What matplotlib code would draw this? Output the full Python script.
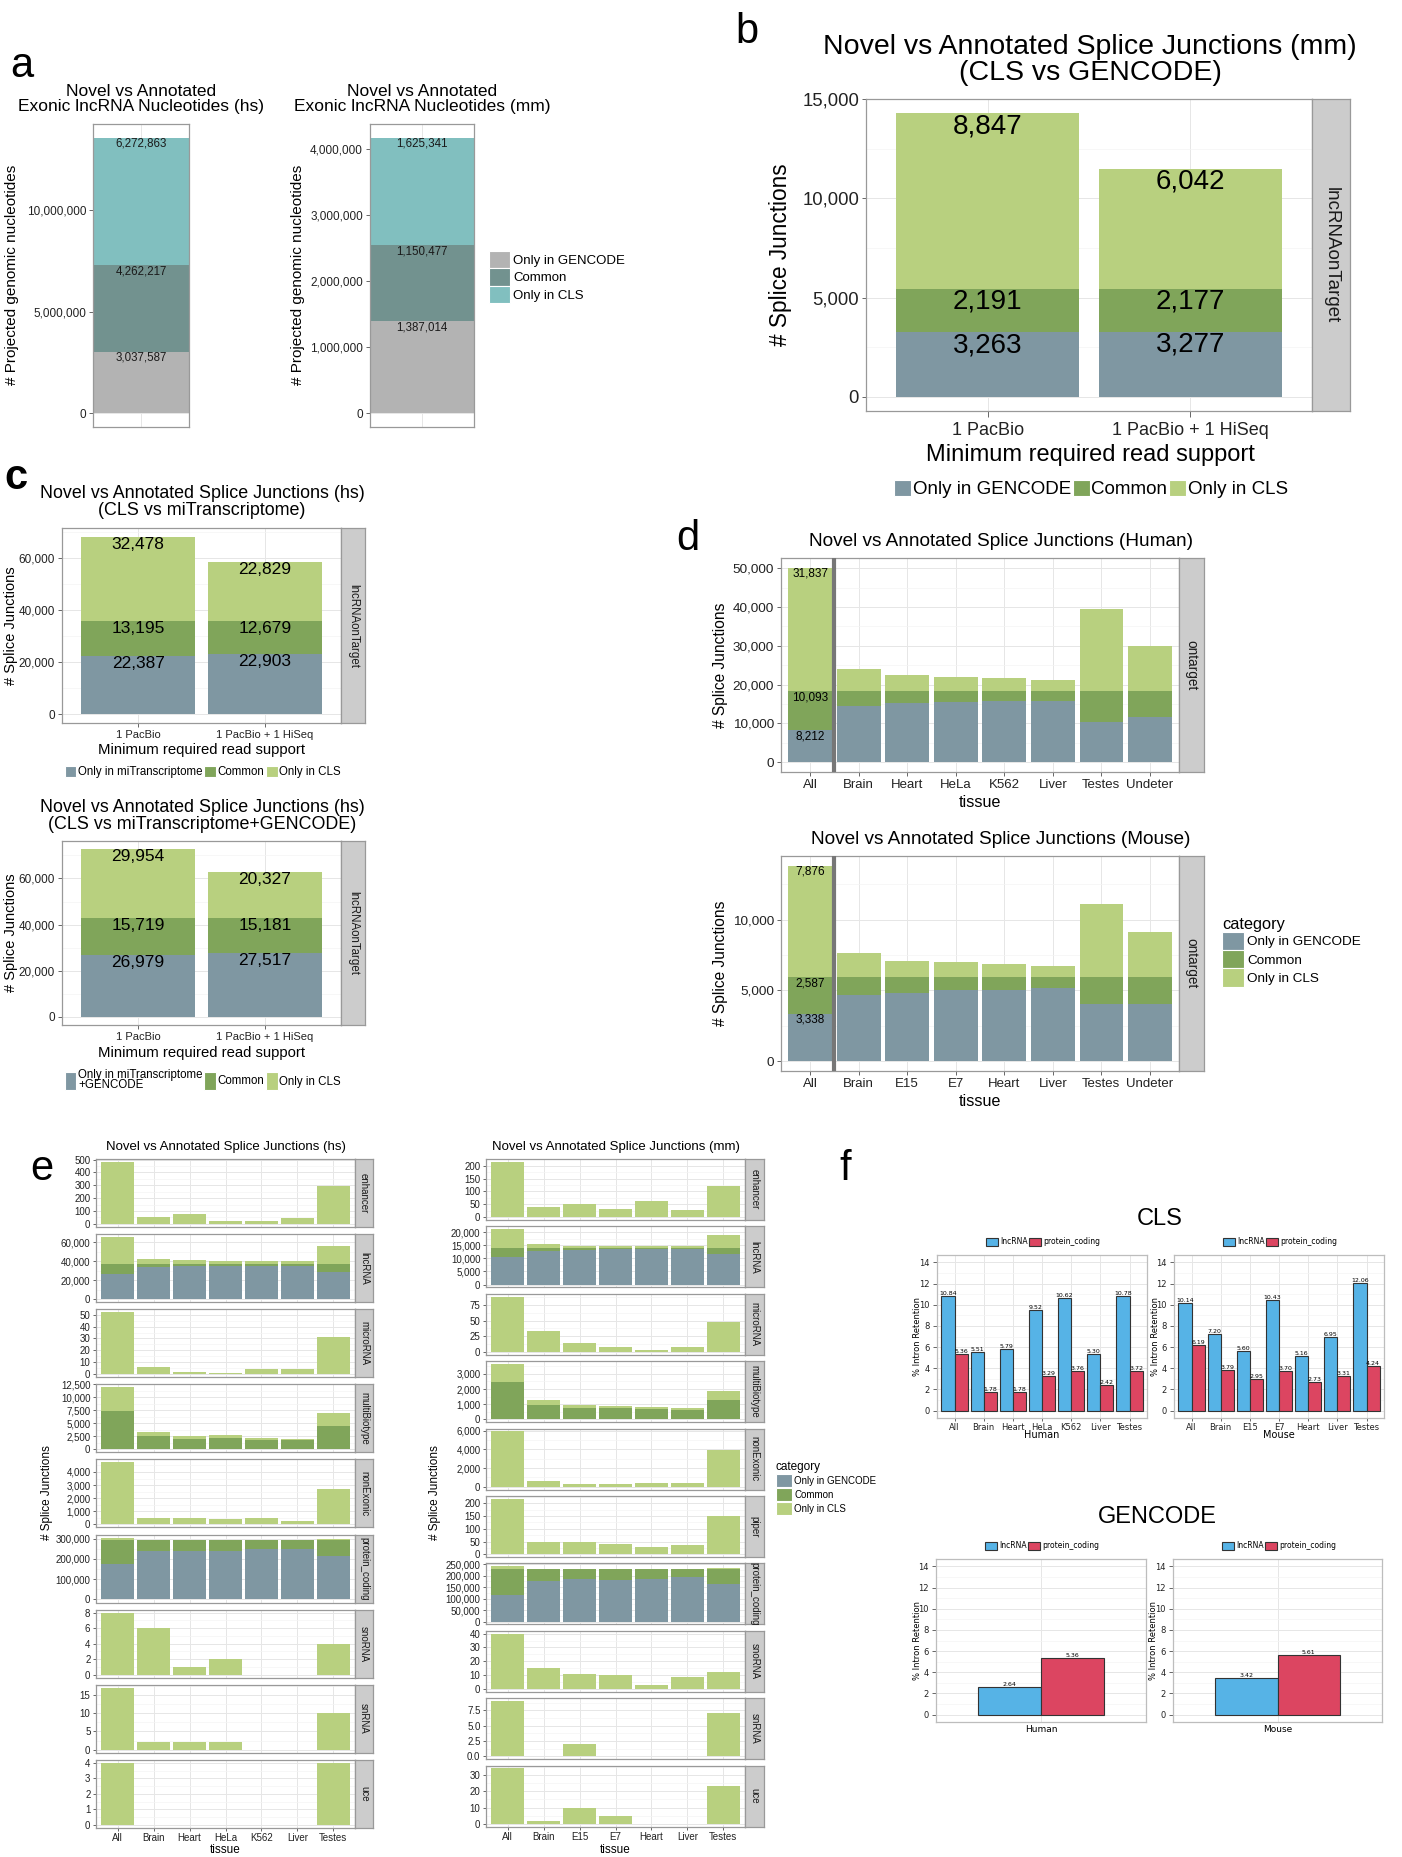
import numpy as np
import matplotlib
matplotlib.use('Agg')
import matplotlib.pyplot as plt
from matplotlib.patches import Patch
from matplotlib.ticker import FuncFormatter, AutoMinorLocator

plt.rcParams['font.family'] = ['Liberation Sans', 'DejaVu Sans']

# ---------------- data ----------------
cat_labels = ['Only in GENCODE', 'Common', 'Only in CLS']

# a: exonic lncRNA nucleotides
a_hs = [3037587, 4262217, 6272863]
a_mm = [1387014, 1150477, 1625341]

# b: mouse splice junctions, CLS vs GENCODE
read_support = ['1 PacBio', '1 PacBio + 1 HiSeq']
b_gencode = [3263, 3277]
b_common = [2191, 2177]
b_cls = [8847, 6042]

# c: human, CLS vs miTranscriptome (+GENCODE)
c1_ref = [22387, 22903]
c1_common = [13195, 12679]
c1_cls = [32478, 22829]
c2_ref = [26979, 27517]
c2_common = [15719, 15181]
c2_cls = [29954, 20327]

# d: per tissue
d_hs_tissues = ['All', 'Brain', 'Heart', 'HeLa', 'K562', 'Liver', 'Testes', 'Undeter']
d_hs_gencode = [8212, 14500, 15400, 15600, 15800, 15700, 10500, 11700]
d_hs_common = [10093, 3800, 2900, 2700, 2500, 2600, 7800, 6600]
d_hs_cls = [31837, 5650, 4100, 3600, 3300, 3000, 21300, 11550]
d_mm_tissues = ['All', 'Brain', 'E15', 'E7', 'Heart', 'Liver', 'Testes', 'Undeter']
d_mm_gencode = [3338, 4680, 4840, 5000, 5000, 5160, 4030, 4030]
d_mm_common = [2587, 1245, 1085, 925, 925, 765, 1895, 1895]
d_mm_cls = [7876, 1725, 1130, 1050, 970, 780, 5210, 3180]

# e: per biotype and tissue
e_hs_tissues = ['All', 'Brain', 'Heart', 'HeLa', 'K562', 'Liver', 'Testes']
e_hs_biotypes = ['enhancer', 'lncRNA', 'microRNA', 'multiBiotype', 'nonExonic',
                 'protein_coding', 'snoRNA', 'snRNA', 'uce']
e_hs_gencode = {
    'lncRNA': [26000, 34000, 35000, 35000, 35500, 35000, 29000],
    'protein_coding': [173500, 236800, 240000, 240000, 248000, 251000, 215700],
}
e_hs_common = {
    'lncRNA': [11500, 3500, 2500, 2500, 2000, 2500, 8500],
    'multiBiotype': [7400, 2500, 1950, 2150, 1850, 1700, 4400],
    'protein_coding': [118500, 55200, 52000, 52000, 44000, 41000, 76300],
}
e_hs_cls = {
    'enhancer': [480, 54, 74, 26, 20, 46, 291],
    'lncRNA': [28000, 4500, 3500, 3000, 3000, 2500, 18500],
    'microRNA': [52, 6, 2, 1, 4, 4, 31],
    'multiBiotype': [4500, 900, 500, 550, 400, 350, 2650],
    'nonExonic': [4725, 450, 450, 400, 450, 275, 2675],
    'protein_coding': [13000, 1500, 1200, 1200, 1200, 1200, 4800],
    'snoRNA': [8, 6, 1, 2, 0, 0, 4],
    'snRNA': [17, 2, 2, 2, 0, 0, 10],
    'uce': [4, 0, 0, 0, 0, 0, 4],
}
e_mm_tissues = ['All', 'Brain', 'E15', 'E7', 'Heart', 'Liver', 'Testes']
e_mm_biotypes = ['enhancer', 'lncRNA', 'microRNA', 'multiBiotype', 'nonExonic', 'piper',
                 'protein_coding', 'snoRNA', 'snRNA', 'uce']
e_mm_gencode = {
    'lncRNA': [10600, 12950, 13200, 13450, 13450, 13600, 11800],
    'protein_coding': [115000, 176700, 183900, 181000, 186800, 192500, 162400],
}
e_mm_common = {
    'lncRNA': [3500, 1150, 900, 650, 650, 500, 2300],
    'multiBiotype': [2450, 930, 720, 780, 700, 650, 1280],
    'protein_coding': [115000, 53300, 46100, 49000, 43200, 37500, 67600],
}
e_mm_cls = {
    'enhancer': [215, 38, 53, 33, 63, 29, 123],
    'lncRNA': [7000, 1400, 750, 750, 750, 600, 4650],
    'microRNA': [88, 33, 15, 8, 3, 8, 48],
    'multiBiotype': [1200, 350, 220, 130, 130, 110, 590],
    'nonExonic': [5930, 635, 350, 350, 390, 420, 3950],
    'piper': [218, 49, 49, 39, 27, 35, 149],
    'protein_coding': [11400, 1000, 800, 800, 800, 800, 5600],
    'snoRNA': [40, 15, 11, 10, 3, 9, 12],
    'snRNA': [9, 0, 2, 0, 0, 0, 7],
    'uce': [34, 2, 10, 5, 0, 0, 23],
}
e_hs_ticks = {'enhancer': [0, 100, 200, 300, 400, 500], 'lncRNA': [0, 20000, 40000, 60000],
              'microRNA': [0, 10, 20, 30, 40, 50], 'multiBiotype': [0, 2500, 5000, 7500, 10000, 12500],
              'nonExonic': [0, 1000, 2000, 3000, 4000], 'protein_coding': [0, 100000, 200000, 300000],
              'snoRNA': [0, 2, 4, 6, 8], 'snRNA': [0, 5, 10, 15], 'uce': [0, 1, 2, 3, 4]}
e_mm_ticks = {'enhancer': [0, 50, 100, 150, 200], 'lncRNA': [0, 5000, 10000, 15000, 20000],
              'microRNA': [0, 25, 50, 75], 'multiBiotype': [0, 1000, 2000, 3000],
              'nonExonic': [0, 2000, 4000, 6000], 'piper': [0, 50, 100, 150, 200],
              'protein_coding': [0, 50000, 100000, 150000, 200000, 250000],
              'snoRNA': [0, 10, 20, 30, 40], 'snRNA': [0, 2.5, 5, 7.5], 'uce': [0, 10, 20, 30]}

# f: intron retention
f_hs_tissues = ['All', 'Brain', 'Heart', 'HeLa', 'K562', 'Liver', 'Testes']
f_hs_lnc = [10.84, 5.51, 5.79, 9.52, 10.62, 5.30, 10.78]
f_hs_pc = [5.36, 1.78, 1.78, 3.29, 3.76, 2.42, 3.72]
f_mm_tissues = ['All', 'Brain', 'E15', 'E7', 'Heart', 'Liver', 'Testes']
f_mm_lnc = [10.14, 7.20, 5.60, 10.43, 5.16, 6.95, 12.06]
f_mm_pc = [6.19, 3.79, 2.95, 3.70, 2.73, 3.31, 4.24]
g_species = ['Human', 'Mouse']
g_lnc = [2.64, 3.42]
g_pc = [5.36, 5.61]

# ---------------- styling ----------------
A_COLS = ['#b3b3b3', '#72928f', '#81bfbf']
COLS = ['#7f97a2', '#80a55a', '#b8d07f']
LNC, PC = '#56b3e6', '#dc4561'
W, H = 1402, 1857
DV = 'DejaVu Sans'

fig = plt.figure(figsize=(W / 100, H / 100), dpi=100)
comma = FuncFormatter(lambda v, p: f'{v:,.0f}')


def place(x0, y0, x1, y1):
    return fig.add_axes([x0 / W, 1 - y1 / H, (x1 - x0) / W, (y1 - y0) / H])


def ftext(x, y, s, **kw):
    return fig.text(x / W, 1 - y / H, s, **kw)


def bw(ax, fs, border='#999999', tc='#222222'):
    ax.set_facecolor('white')
    for s in ax.spines.values():
        s.set_edgecolor(border)
        s.set_linewidth(0.9)
    ax.grid(True, which='major', color='#e6e6e6', lw=0.7)
    ax.grid(True, which='minor', axis='y', color='#f4f4f4', lw=0.5)
    ax.set_axisbelow(True)
    ax.yaxis.set_minor_locator(AutoMinorLocator(2))
    ax.tick_params(which='major', length=3, width=0.7, color='#666666',
                   labelsize=fs, labelcolor=tc, pad=2)
    ax.tick_params(which='minor', length=0)


def strip(x0, y0, x1, y1, text, fs, family=None):
    s = place(x0, y0, x1, y1)
    s.set_facecolor('#cccccc')
    for sp in s.spines.values():
        sp.set_edgecolor('#999999')
        sp.set_linewidth(0.9)
    s.set_xticks([])
    s.set_yticks([])
    s.text(0.5, 0.5, text, rotation=270, ha='center', va='center', fontsize=fs,
           color='#1a1a1a', transform=s.transAxes, family=family)


def stack(ax, layers, colors, width=0.9):
    x = np.arange(len(layers[0]))
    bottom = np.zeros(len(x))
    tops = []
    for vals, c in zip(layers, colors):
        vals = np.asarray(vals, float)
        ax.bar(x, vals, width, bottom=bottom, color=c, linewidth=0, zorder=2)
        bottom = bottom + vals
        tops.append(bottom.copy())
    ax.set_xlim(-0.6, len(x) - 0.4)
    top = bottom.max()
    ax.set_ylim(-0.05 * top, 1.05 * top)
    ax.set_xticks(x)
    return x, tops


def legend(labels, colors, x, y, fs, ncol, loc, edge='white', **kw):
    handles = [Patch(facecolor=c, edgecolor=edge, linewidth=0.8) for c in colors]
    return fig.legend(handles, labels, loc=loc, bbox_to_anchor=(x / W, 1 - y / H), ncol=ncol,
                      frameon=False, fontsize=fs, borderpad=0, borderaxespad=0, **kw)


def set_family(ax, family):
    for t in ax.get_xticklabels() + ax.get_yticklabels():
        t.set_fontfamily(family)


# ---------------- panel a ----------------
for (x0, x1, tx, vals, ticks, yl_x, sp) in [
        (93, 189, 141, a_hs, [0, 5e6, 10e6], 12, 'hs'),
        (370, 474, 422, a_mm, [0, 1e6, 2e6, 3e6, 4e6], 298, 'mm')]:
    ax = place(x0, 124, x1, 427)
    bw(ax, 8.5)
    x, tops = stack(ax, [[v] for v in vals], A_COLS)
    ax.set_xlim(-0.45, 0.45)
    ax.set_xticks([0])
    ax.set_xticklabels([])
    ax.tick_params(axis='x', length=0)
    ax.set_yticks(ticks)
    ax.yaxis.set_major_formatter(comma)
    for v, t in zip(vals, tops):
        ax.text(0, t[0], f'{v:,}', ha='center', va='top', fontsize=8.3, color='#1a1a1a')
    ftext(tx, 99, 'Novel vs Annotated\nExonic lncRNA Nucleotides (%s)' % sp, ha='center',
          va='center', fontsize=12.5, linespacing=0.95)
    ftext(yl_x, 275, '# Projected genomic nucleotides', rotation=90, ha='center',
          va='center', fontsize=11)
legend(cat_labels, A_COLS, 489, 251, 9.5, 1, 'upper left', handlelength=1.6,
       handleheight=1.65, labelspacing=0.0, handletextpad=0.25)
ftext(22, 77, 'a', fontsize=30, ha='center')

# ---------------- panel b ----------------
ax = place(866, 99, 1312, 411)
bw(ax, 13.3)
x, tops = stack(ax, [b_gencode, b_common, b_cls], COLS)
ax.set_yticks([0, 5000, 10000, 15000])
ax.yaxis.set_major_formatter(comma)
ax.set_xticklabels(read_support, fontsize=13)
ax.tick_params(axis='x', length=4, pad=4)
for vals, t in zip([b_gencode, b_common, b_cls], tops):
    for xi, v, tt in zip(x, vals, t):
        ax.text(xi, tt, f'{v:,}', ha='center', va='top', fontsize=20)
strip(1312, 99, 1350, 411, 'lncRNAonTarget', 13.5)
ftext(1090, 60, 'Novel vs Annotated Splice Junctions (mm)\n(CLS vs GENCODE)', ha='center',
      va='center', fontsize=20.5, linespacing=0.95)
ftext(781, 255, '# Splice Junctions', rotation=90, ha='center', va='center', fontsize=16.3)
ftext(1090, 455, 'Minimum required read support', ha='center', va='center', fontsize=17)
legend(cat_labels, COLS, 1091, 489, 13.5, 3, 'center', handlelength=0.9, handleheight=0.95,
       handletextpad=0.1, columnspacing=0.1)
ftext(747, 43, 'b', fontsize=30, ha='center')

# ---------------- panel c ----------------
c_sets = [
    (502, 528, 723, 750, 772, '(CLS vs miTranscriptome)', [c1_ref, c1_common, c1_cls],
     'Only in miTranscriptome', 1.1),
    (816, 841, 1025, 1053, 1080, '(CLS vs miTranscriptome+GENCODE)', [c2_ref, c2_common, c2_cls],
     'Only in miTranscriptome\n+GENCODE', 2.0),
]
for (ty, y0, y1, xly, lgy, sub, layers, reflab, hh) in c_sets:
    ax = place(62, y0, 341, y1)
    bw(ax, 8.5)
    x, tops = stack(ax, layers, COLS)
    ax.set_yticks([0, 20000, 40000, 60000])
    ax.yaxis.set_major_formatter(comma)
    ax.set_xticklabels(read_support, fontsize=8)
    ax.tick_params(axis='x', length=3, pad=2)
    for vals, t in zip(layers, tops):
        for xi, v, tt in zip(x, vals, t):
            ax.text(xi, tt, f'{v:,}', ha='center', va='top', fontsize=12.5)
    strip(341, y0, 365, y1, 'lncRNAonTarget', 8.3)
    ftext(202, ty, 'Novel vs Annotated Splice Junctions (hs)\n' + sub, ha='center',
          va='center', fontsize=12.9, linespacing=0.95)
    ftext(11, (y0 + y1) / 2, '# Splice Junctions', rotation=90, ha='center', va='center',
          fontsize=10.5)
    ftext(202, xly, 'Minimum required read support', ha='center', va='center', fontsize=10.7)
    lg = legend([reflab, 'Common', 'Only in CLS'], COLS, 203, lgy, 8.3, 3, 'center',
                handlelength=1.0, handleheight=hh, handletextpad=0.15, columnspacing=0.15)
    for t in lg.get_texts():
        t.set_linespacing(0.85)
ftext(16, 489, 'c', fontsize=30, fontweight='bold', ha='center')

# ---------------- panel d ----------------
d_sets = [
    (541, 558, 772, 803, d_hs_tissues, [d_hs_gencode, d_hs_common, d_hs_cls],
     [0, 10000, 20000, 30000, 40000, 50000], 'Human'),
    (840, 856, 1071, 1101, d_mm_tissues, [d_mm_gencode, d_mm_common, d_mm_cls],
     [0, 5000, 10000], 'Mouse'),
]
for (ty, y0, y1, xly, tissues, layers, ticks, name) in d_sets:
    ax = place(781, y0, 1179, y1)
    bw(ax, 9.7)
    x, tops = stack(ax, layers, COLS)
    ax.axvline(0.5, color='#777777', lw=3, zorder=3)
    ax.set_yticks(ticks)
    ax.yaxis.set_major_formatter(comma)
    ax.set_xticklabels(tissues, fontsize=9.5)
    ax.tick_params(axis='x', length=3, pad=2)
    for vals, t in zip(layers, tops):
        ax.text(0, t[0], f'{vals[0]:,}', ha='center', va='top', fontsize=8.5)
    strip(1179, y0, 1204, y1, 'ontarget', 9.8)
    ftext(1001, ty, 'Novel vs Annotated Splice Junctions (%s)' % name, ha='center',
          va='center', fontsize=13.7)
    ftext(720, (y0 + y1) / 2, '# Splice Junctions', rotation=90, ha='center', va='center',
          fontsize=11.2)
    ftext(980, xly, 'tissue', ha='center', va='center', fontsize=11.6)
legend(cat_labels, COLS, 1222, 917, 9.7, 1, 'upper left', handlelength=1.63,
       handleheight=1.7, labelspacing=0.0, handletextpad=0.25, title='category',
       title_fontsize=11.8, alignment='left')
ftext(688, 550, 'd', fontsize=30, ha='center')

# ---------------- panel e ----------------
e_sets = [
    (96, 355, 373, 75.1, 68, e_hs_biotypes, e_hs_tissues, e_hs_gencode, e_hs_common, e_hs_cls,
     e_hs_ticks, 'hs', 47),
    (486, 745, 764, 67.4, 61, e_mm_biotypes, e_mm_tissues, e_mm_gencode, e_mm_common, e_mm_cls,
     e_mm_ticks, 'mm', 435),
]
for (x0, x1, xs, step, ph, biotypes, tissues, gen, com, cls, tks, sp, ylx) in e_sets:
    n = len(tissues)
    for i, bt in enumerate(biotypes):
        top = 1159 + i * step
        ax = place(x0, top, x1, top + ph)
        bw(ax, 7)
        layers = [gen.get(bt, [0] * n), com.get(bt, [0] * n), cls[bt]]
        stack(ax, layers, COLS)
        ax.set_yticks(tks[bt])
        if bt == 'snRNA' and sp == 'mm':
            ax.yaxis.set_major_formatter(FuncFormatter(lambda v, p: f'{v:.1f}'))
        else:
            ax.yaxis.set_major_formatter(comma)
        if i == len(biotypes) - 1:
            ax.set_xticklabels(tissues, fontsize=7)
            ax.tick_params(axis='x', length=2.5, pad=1.5)
        else:
            ax.set_xticklabels([])
            ax.tick_params(axis='x', length=0)
        ax.tick_params(axis='y', length=2.5, pad=1.5)
        strip(x1, top, xs, top + ph, bt, 7)
    ftext((x0 + x1) / 2, 1147, 'Novel vs Annotated Splice Junctions (%s)' % sp, ha='center',
          va='center', fontsize=9.5)
    ftext(ylx, 1493, '# Splice Junctions', rotation=90, ha='center', va='center', fontsize=8.5)
    ftext((x0 + x1) / 2, 1850, 'tissue', ha='center', va='center', fontsize=8.5)
legend(cat_labels, COLS, 776, 1461, 7, 1, 'upper left', handlelength=1.6, handleheight=1.7,
       labelspacing=0.1, handletextpad=0.3, title='category', title_fontsize=8.5,
       alignment='left')
ftext(42, 1180, 'e', fontsize=30, ha='center')

# ---------------- panel f ----------------
f_sets = [
    (937, 1147, 1255, 1418, f_hs_tissues, f_hs_lnc, f_hs_pc, 0.45, 'Human', 1043, 1242),
    (1174, 1384, 1255, 1418, f_mm_tissues, f_mm_lnc, f_mm_pc, 0.45, 'Mouse', 1280, 1242),
    (936, 1146, 1559, 1722, ['Human'], g_lnc[:1], g_pc[:1], 0.36, 'Human', 1042, 1546),
    (1173, 1382, 1559, 1722, ['Mouse'], g_lnc[1:], g_pc[1:], 0.36, 'Mouse', 1279, 1546),
]
for (x0, x1, y0, y1, cats, lnc, pc, bwid, xl, lgx, lgy) in f_sets:
    ax = place(x0, y0, x1, y1)
    bw(ax, 6, border='#bdbdbd')
    x = np.arange(len(cats))
    ax.bar(x - bwid / 2, lnc, bwid, color=LNC, edgecolor='#333333', linewidth=0.8, zorder=2)
    ax.bar(x + bwid / 2, pc, bwid, color=PC, edgecolor='#333333', linewidth=0.8, zorder=2)
    for xi, a, b in zip(x, lnc, pc):
        ax.text(xi - bwid / 2, a, f'{a:.2f}', ha='center', va='bottom', fontsize=4.5, family=DV)
        ax.text(xi + bwid / 2, b, f'{b:.2f}', ha='center', va='bottom', fontsize=4.5, family=DV)
    ax.set_xlim(-0.6, len(cats) - 0.4)
    ax.set_ylim(-0.7, 14.7)
    ax.set_yticks(range(0, 15, 2))
    ax.set_xticks(x)
    ax.set_xticklabels(cats if len(cats) > 1 else [''])
    ax.tick_params(axis='x', length=2 if len(cats) > 1 else 0, pad=1.5)
    set_family(ax, DV)
    ftext(x0 - 19, (y0 + y1) / 2, '% Intron Retention', rotation=90, ha='center',
          va='center', fontsize=6, family=DV)
    ftext((x0 + x1) / 2, y1 + 17 if len(cats) > 1 else y1 + 8, xl, ha='center', va='center',
          fontsize=7 if len(cats) > 1 else 6.5, family=DV)
    lg = legend(['lncRNA', 'protein_coding'], [LNC, PC], lgx, lgy, 5.5, 2, 'center',
                edge='#333333', handlelength=1.6, handleheight=1.3, handletextpad=0.2,
                columnspacing=0.2)
    for t in lg.get_texts():
        t.set_fontfamily(DV)
ftext(1160, 1219, 'CLS', ha='center', va='center', fontsize=17)
ftext(1157, 1517, 'GENCODE', ha='center', va='center', fontsize=17)
ftext(845, 1180, 'f', fontsize=30, ha='center')

fig.savefig('out.png', dpi=100)
